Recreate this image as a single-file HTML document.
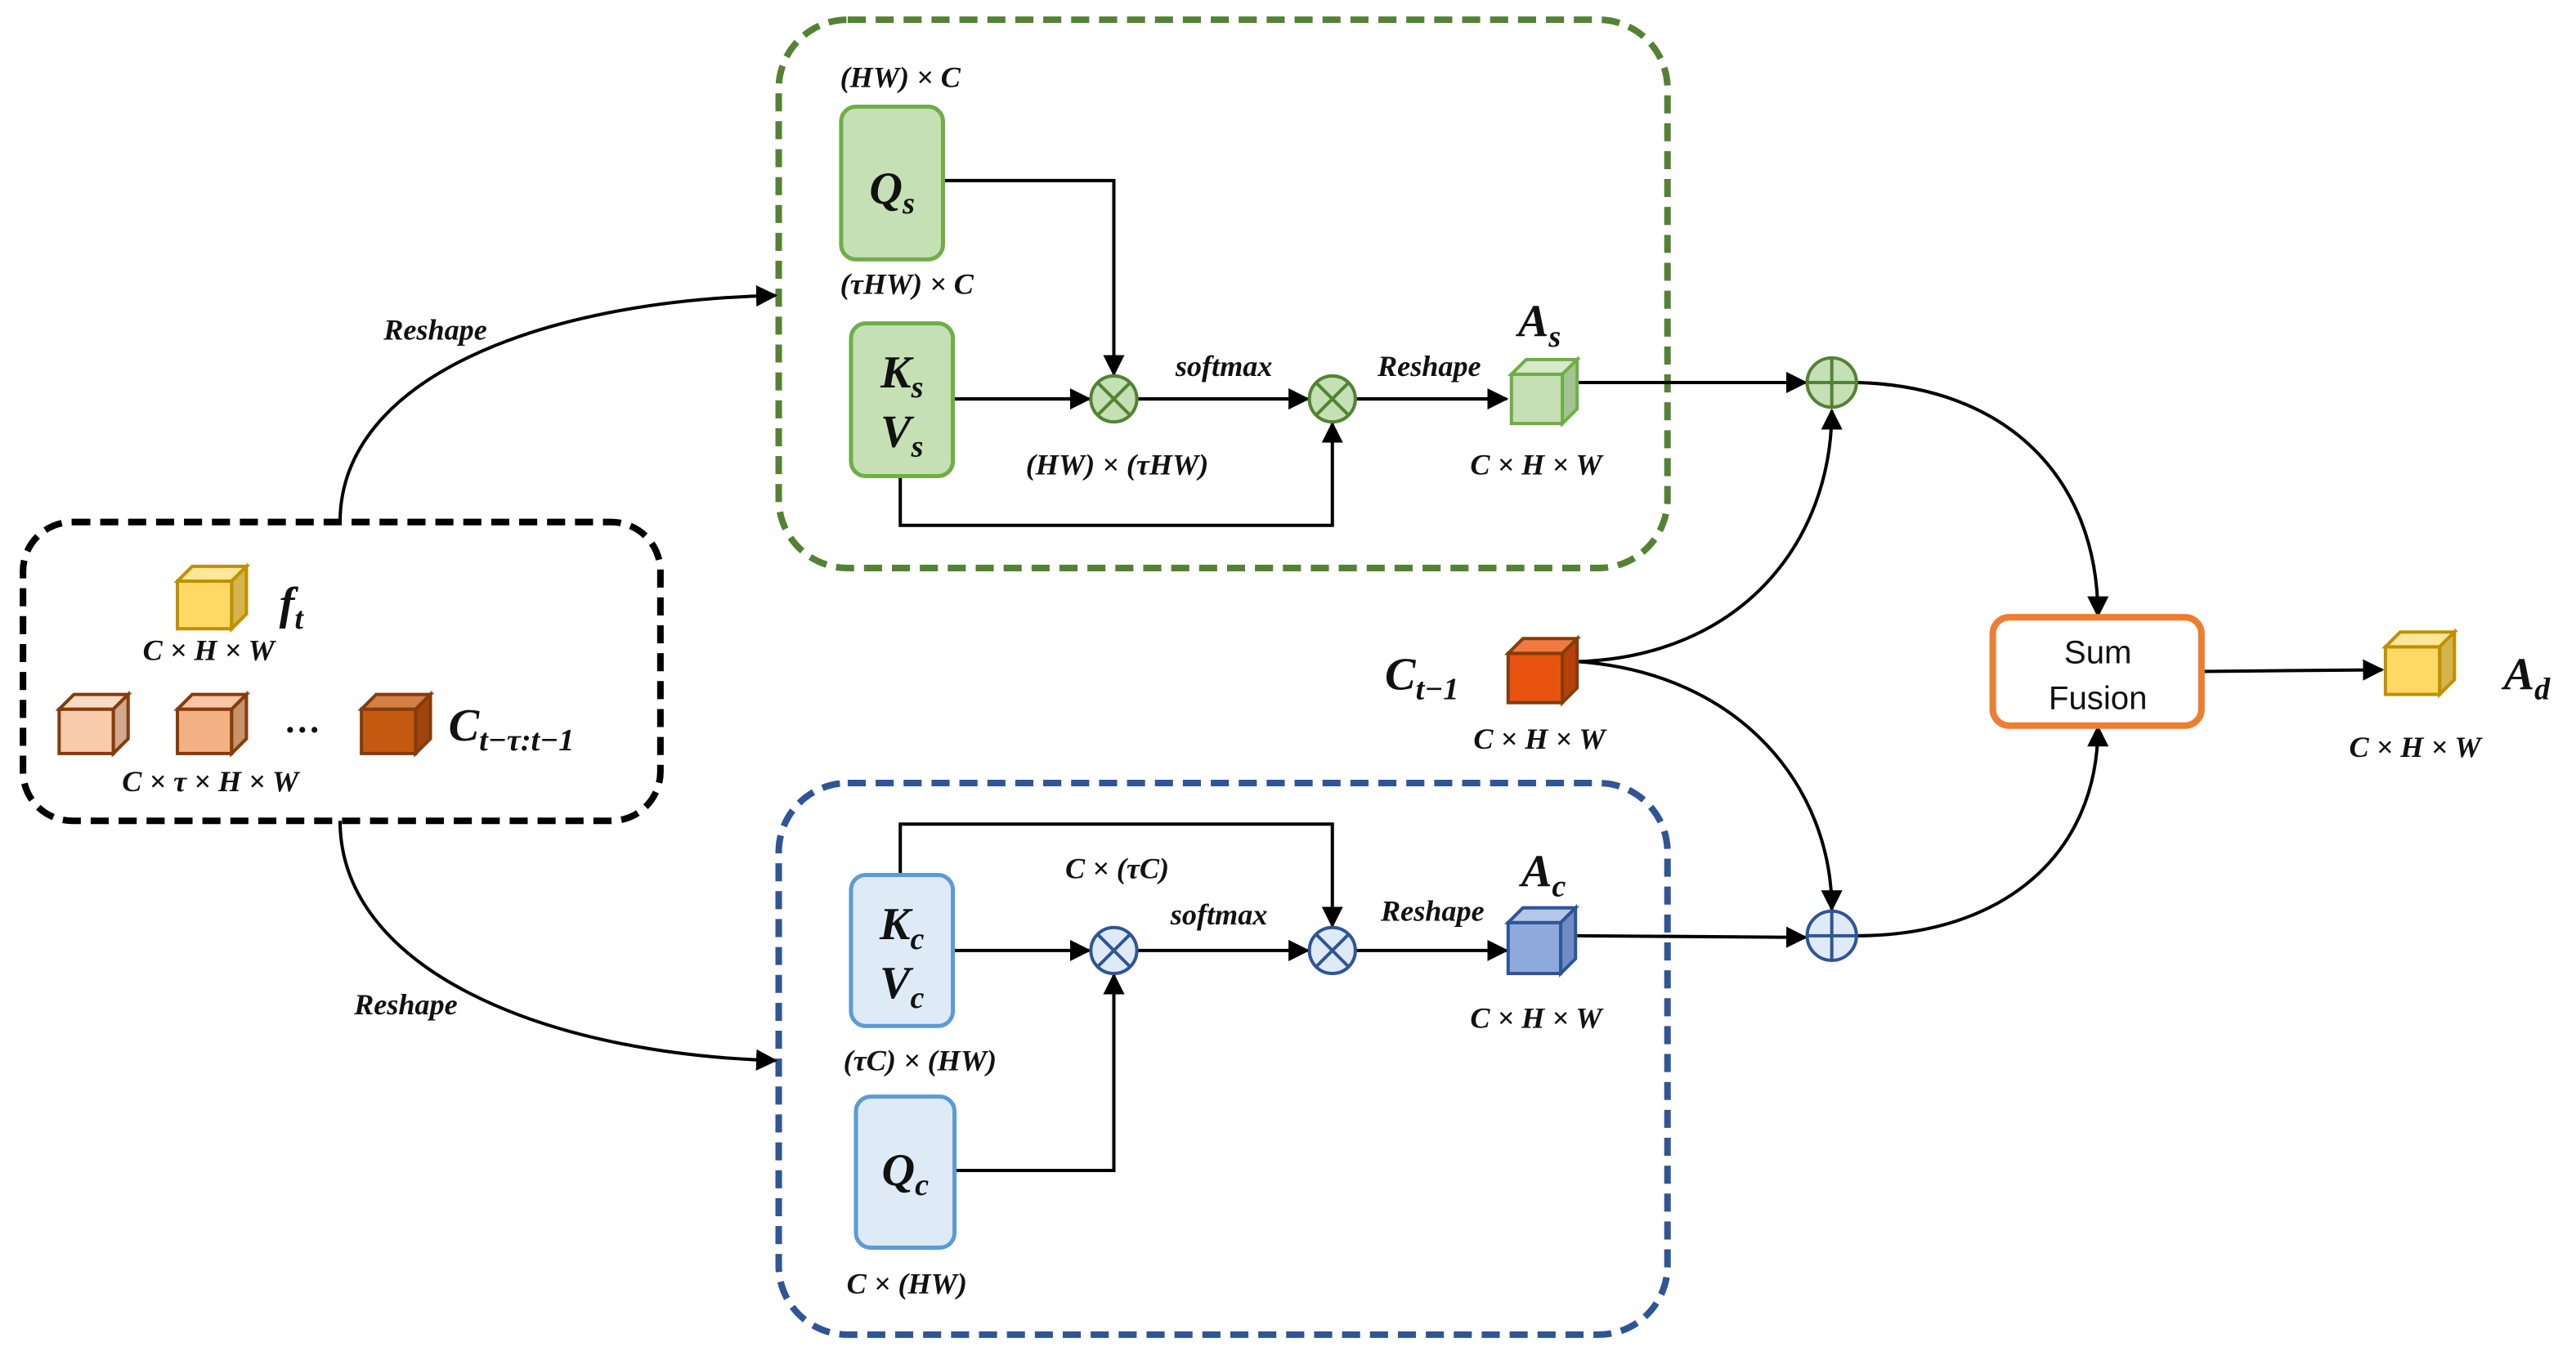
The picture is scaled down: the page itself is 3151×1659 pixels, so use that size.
<!DOCTYPE html>
<html><head><meta charset="utf-8"><style>
html,body{margin:0;padding:0;background:#fff}
svg{display:block}
text{font-family:"Liberation Serif",serif;font-style:italic;font-weight:bold;fill:#111}
</style></head><body>
<svg width="3151" height="1659" viewBox="0 0 1568 826" preserveAspectRatio="none" xmlns="http://www.w3.org/2000/svg">
<defs>
<marker id="a" viewBox="0 0 10 10" refX="9" refY="5" markerWidth="6.5" markerHeight="6.5" orient="auto"><path d="M0,0 L10,5 L0,10 z" fill="#000"/></marker>
</defs>
<rect x="14" y="318" width="388" height="182" rx="30" fill="none" stroke="#000" stroke-width="4" stroke-dasharray="11,6"/>
<rect x="474" y="12" width="541" height="334" rx="42" fill="none" stroke="#548235" stroke-width="4" stroke-dasharray="11,6"/>
<rect x="474" y="477" width="541" height="336" rx="42" fill="none" stroke="#2F5597" stroke-width="4" stroke-dasharray="11,6"/>

<g fill="none" stroke="#000" stroke-width="2">
<path d="M207,318 C207,230 330,183 472,180" marker-end="url(#a)"/>
<path d="M207,500 C207,590 330,642 472,646" marker-end="url(#a)"/>
<path d="M960,403 C1060,400 1115,330 1115,250" marker-end="url(#a)"/>
<path d="M960,403 C1060,410 1115,480 1115,554" marker-end="url(#a)"/>
<path d="M1130,233 C1220,235 1277,290 1277,375" marker-end="url(#a)"/>
<path d="M1130,570 C1220,570 1277,520 1277,443" marker-end="url(#a)"/>
<path d="M1340,409 L1450,408" marker-end="url(#a)"/>
<path d="M960,233 L1099,233" marker-end="url(#a)"/>
<path d="M960,570 L1099,571" marker-end="url(#a)"/>
<path d="M574,110 L678,110 L678,228" marker-end="url(#a)"/>
<path d="M580,243 L663,243" marker-end="url(#a)"/>
<path d="M692,243 L796,243" marker-end="url(#a)"/>
<path d="M825,243 L917,243" marker-end="url(#a)"/>
<path d="M548,290 L548,320 L811,320 L811,258" marker-end="url(#a)"/>
<path d="M548,533 L548,502 L811,502 L811,564" marker-end="url(#a)"/>
<path d="M580,579 L663,579" marker-end="url(#a)"/>
<path d="M692,579 L796,579" marker-end="url(#a)"/>
<path d="M825,579 L917,579" marker-end="url(#a)"/>
<path d="M581,713 L678,713 L678,594" marker-end="url(#a)"/>
</g>

<rect x="512" y="65" width="62" height="93" rx="9" fill="#C5E0B4" stroke="#70AD47" stroke-width="2.5"/>
<rect x="518" y="197" width="62" height="93" rx="9" fill="#C5E0B4" stroke="#70AD47" stroke-width="2.5"/>
<rect x="518" y="533" width="62" height="92" rx="9" fill="#DEEBF7" stroke="#5B9BD5" stroke-width="2.5"/>
<rect x="521" y="668" width="60" height="92" rx="9" fill="#DEEBF7" stroke="#5B9BD5" stroke-width="2.5"/>
<rect x="1213" y="376" width="127" height="66" rx="10" fill="#fff" stroke="#ED7D31" stroke-width="4"/>
<text x="1277" y="404" text-anchor="middle" font-size="20" style="font-family:'Liberation Sans',sans-serif;font-style:normal;font-weight:normal">Sum</text>
<text x="1277" y="432" text-anchor="middle" font-size="20" style="font-family:'Liberation Sans',sans-serif;font-style:normal;font-weight:normal">Fusion</text>

<g stroke-width="2">
<g stroke="#548235" fill="#C5E0B4">
<circle cx="678" cy="243" r="14"/><circle cx="811" cy="243" r="14"/><circle cx="1115" cy="233" r="15"/>
</g>
<g stroke="#2F5597" fill="#DEEBF7">
<circle cx="678" cy="579" r="14"/><circle cx="811" cy="579" r="14"/><circle cx="1115" cy="570" r="15"/>
</g>
<g stroke="#548235" fill="none">
<path d="M668,233 L688,253 M688,233 L668,253 M801,233 L821,253 M821,233 L801,253 M1115,218 L1115,248 M1100,233 L1130,233"/>
</g>
<g stroke="#2F5597" fill="none">
<path d="M668,569 L688,589 M688,569 L668,589 M801,569 L821,589 M821,569 L801,589 M1115,555 L1115,585 M1100,570 L1130,570"/>
</g>
</g>

<g stroke-width="2">
<g stroke="#BF9000"><rect x="108" y="354" width="33" height="29" fill="#FFD966"/><path d="M108,354 L117,345 L150,345 L141,354 z" fill="#FFE699"/><path d="M141,354 L150,345 L150,374 L141,383 z" fill="#D4B44E"/></g>
<g stroke="#843C0C"><rect x="36" y="432" width="33" height="27" fill="#F8CBAD"/><path d="M36,432 L45,423 L78,423 L69,432 z" fill="#FADBC6"/><path d="M69,432 L78,423 L78,450 L69,459 z" fill="#D4A88C"/></g>
<g stroke="#843C0C"><rect x="108" y="432" width="33" height="27" fill="#F4B183"/><path d="M108,432 L117,423 L150,423 L141,432 z" fill="#F8C6A5"/><path d="M141,432 L150,423 L150,450 L141,459 z" fill="#C8926A"/></g>
<g stroke="#843C0C"><rect x="220" y="432" width="33" height="27" fill="#C55A11"/><path d="M220,432 L229,423 L262,423 L253,432 z" fill="#D47F45"/><path d="M253,432 L262,423 L262,450 L253,459 z" fill="#9E440C"/></g>
<g stroke="#70AD47"><rect x="920" y="228" width="31" height="30" fill="#C5E0B4"/><path d="M920,228 L929,219 L960,219 L951,228 z" fill="#D6EACA"/><path d="M951,228 L960,219 L960,249 L951,258 z" fill="#A4C494"/></g>
<g stroke="#2F5597"><rect x="918" y="562" width="32" height="31" fill="#8EA9DB"/><path d="M918,562 L927,553 L959,553 L950,562 z" fill="#B4C7E7"/><path d="M950,562 L959,553 L959,584 L950,593 z" fill="#6F8CC4"/></g>
<g stroke="#843C0C"><rect x="918" y="398" width="33" height="30" fill="#E85410"/><path d="M918,398 L927,389 L960,389 L951,398 z" fill="#F07A40"/><path d="M951,398 L960,389 L960,419 L951,428 z" fill="#B8410A"/></g>
<g stroke="#BF9000"><rect x="1452" y="394" width="33" height="29" fill="#FFD966"/><path d="M1452,394 L1461,385 L1494,385 L1485,394 z" fill="#FFE699"/><path d="M1485,394 L1494,385 L1494,414 L1485,423 z" fill="#D4B44E"/></g>
</g>

<text x="543" y="124" text-anchor="middle" font-size="28">Q<tspan font-size="19" dy="6">s</tspan></text>
<text x="549" y="236" text-anchor="middle" font-size="28">K<tspan font-size="19" dy="6">s</tspan></text>
<text x="549" y="272" text-anchor="middle" font-size="28">V<tspan font-size="19" dy="6">s</tspan></text>
<text x="549" y="572" text-anchor="middle" font-size="28">K<tspan font-size="19" dy="6">c</tspan></text>
<text x="549" y="608" text-anchor="middle" font-size="28">V<tspan font-size="19" dy="6">c</tspan></text>
<text x="551" y="722" text-anchor="middle" font-size="28">Q<tspan font-size="19" dy="6">c</tspan></text>

<g font-size="18" text-anchor="middle">
<text x="265" y="207">Reshape</text>
<text x="247" y="618">Reshape</text>
<text x="548" y="53">(HW) × C</text>
<text x="552" y="179">(τHW) × C</text>
<text x="745" y="229">softmax</text>
<text x="870" y="229">Reshape</text>
<text x="680" y="289">(HW) × (τHW)</text>
<text x="935" y="289">C × H × W</text>
<text x="937" y="456">C × H × W</text>
<text x="1470" y="461">C × H × W</text>
<text x="127" y="402">C × H × W</text>
<text x="128" y="482">C × τ × H × W</text>
<text x="680" y="535">C × (τC)</text>
<text x="742" y="563">softmax</text>
<text x="872" y="561">Reshape</text>
<text x="935" y="626">C × H × W</text>
<text x="560" y="652">(τC) × (HW)</text>
<text x="552" y="788">C × (HW)</text>
</g>
<text x="184" y="446" font-size="22" text-anchor="middle" style="font-style:normal">…</text>

<text x="170" y="377" font-size="28">f<tspan font-size="19" dy="6">t</tspan></text>
<text x="273" y="451" font-size="28">C<tspan font-size="19" dy="6">t−τ:t−1</tspan></text>
<text x="924" y="205" font-size="28">A<tspan font-size="19" dy="6">s</tspan></text>
<text x="926" y="540" font-size="28">A<tspan font-size="19" dy="6">c</tspan></text>
<text x="843" y="420" font-size="28">C<tspan font-size="19" dy="6">t−1</tspan></text>
<text x="1524" y="420" font-size="28">A<tspan font-size="19" dy="6">d</tspan></text>
</svg>
</body></html>
